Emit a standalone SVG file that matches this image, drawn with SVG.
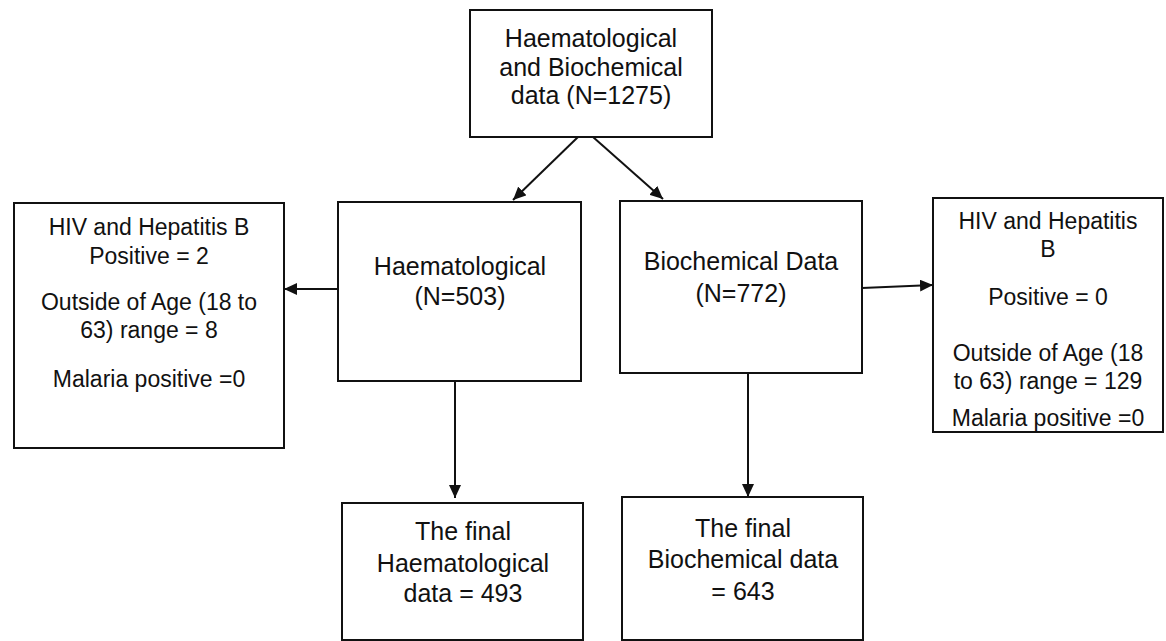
<svg xmlns="http://www.w3.org/2000/svg" width="1166" height="641" viewBox="0 0 1166 641">
<style>
.box{fill:#fff;stroke:#111;stroke-width:2}
.t{font-family:"Liberation Sans",Arial,sans-serif;fill:#111;text-anchor:middle}
.l{font-size:25px}
.s{font-size:23px}
.c{stroke:#111;stroke-width:2;fill:none;marker-end:url(#ah)}
</style>
<defs>
<marker id="ah" markerUnits="userSpaceOnUse" markerWidth="14" markerHeight="12" refX="13" refY="6" orient="auto">
<path d="M0,0 L13,6 L0,12 z" fill="#111"/>
</marker>
</defs>
<rect width="1166" height="641" fill="#fff"/>
<g id="connectors">
<path class="c" d="M578,137 L513,200"/>
<path class="c" d="M593,137 L663,199"/>
<path class="c" d="M338,289 L284,289"/>
<path class="c" d="M862,288 L933,285"/>
<path class="c" d="M455,381 L455,498"/>
<path class="c" d="M748,373 L748,497"/>
</g>
<g id="top">
<rect class="box" x="470" y="10" width="242" height="127"/>
<text class="t l" x="591" y="47">Haematological</text>
<text class="t l" x="591" y="76">and Biochemical</text>
<text class="t l" x="591" y="104">data (N=1275)</text>
</g>
<g id="haem">
<rect class="box" x="338" y="202" width="243" height="179"/>
<text class="t l" x="460" y="275">Haematological</text>
<text class="t l" x="460" y="305">(N=503)</text>
</g>
<g id="bio">
<rect class="box" x="620" y="201" width="242" height="172"/>
<text class="t l" x="741" y="270">Biochemical Data</text>
<text class="t l" x="741" y="302">(N=772)</text>
</g>
<g id="haem-excl">
<rect class="box" x="14" y="203" width="270" height="245"/>
<text class="t s" x="149" y="235">HIV and Hepatitis B</text>
<text class="t s" x="149" y="264">Positive = 2</text>
<text class="t s" x="149" y="310">Outside of Age (18 to</text>
<text class="t s" x="149" y="338">63) range = 8</text>
<text class="t s" x="149" y="387">Malaria positive =0</text>
</g>
<g id="bio-excl">
<rect class="box" x="933" y="198" width="230" height="234"/>
<text class="t s" x="1048" y="229">HIV and Hepatitis</text>
<text class="t s" x="1048" y="257">B</text>
<text class="t s" x="1048" y="305">Positive = 0</text>
<text class="t s" x="1048" y="361">Outside of Age (18</text>
<text class="t s" x="1048" y="389">to 63) range = 129</text>
<text class="t s" x="1048" y="426">Malaria positive =0</text>
</g>
<g id="haem-final">
<rect class="box" x="342" y="503" width="241" height="137"/>
<text class="t l" x="463" y="540">The final</text>
<text class="t l" x="463" y="572">Haematological</text>
<text class="t l" x="463" y="602">data = 493</text>
</g>
<g id="bio-final">
<rect class="box" x="622" y="497" width="241" height="143"/>
<text class="t l" x="743" y="537">The final</text>
<text class="t l" x="743" y="568">Biochemical data</text>
<text class="t l" x="743" y="600">= 643</text>
</g>
</svg>
